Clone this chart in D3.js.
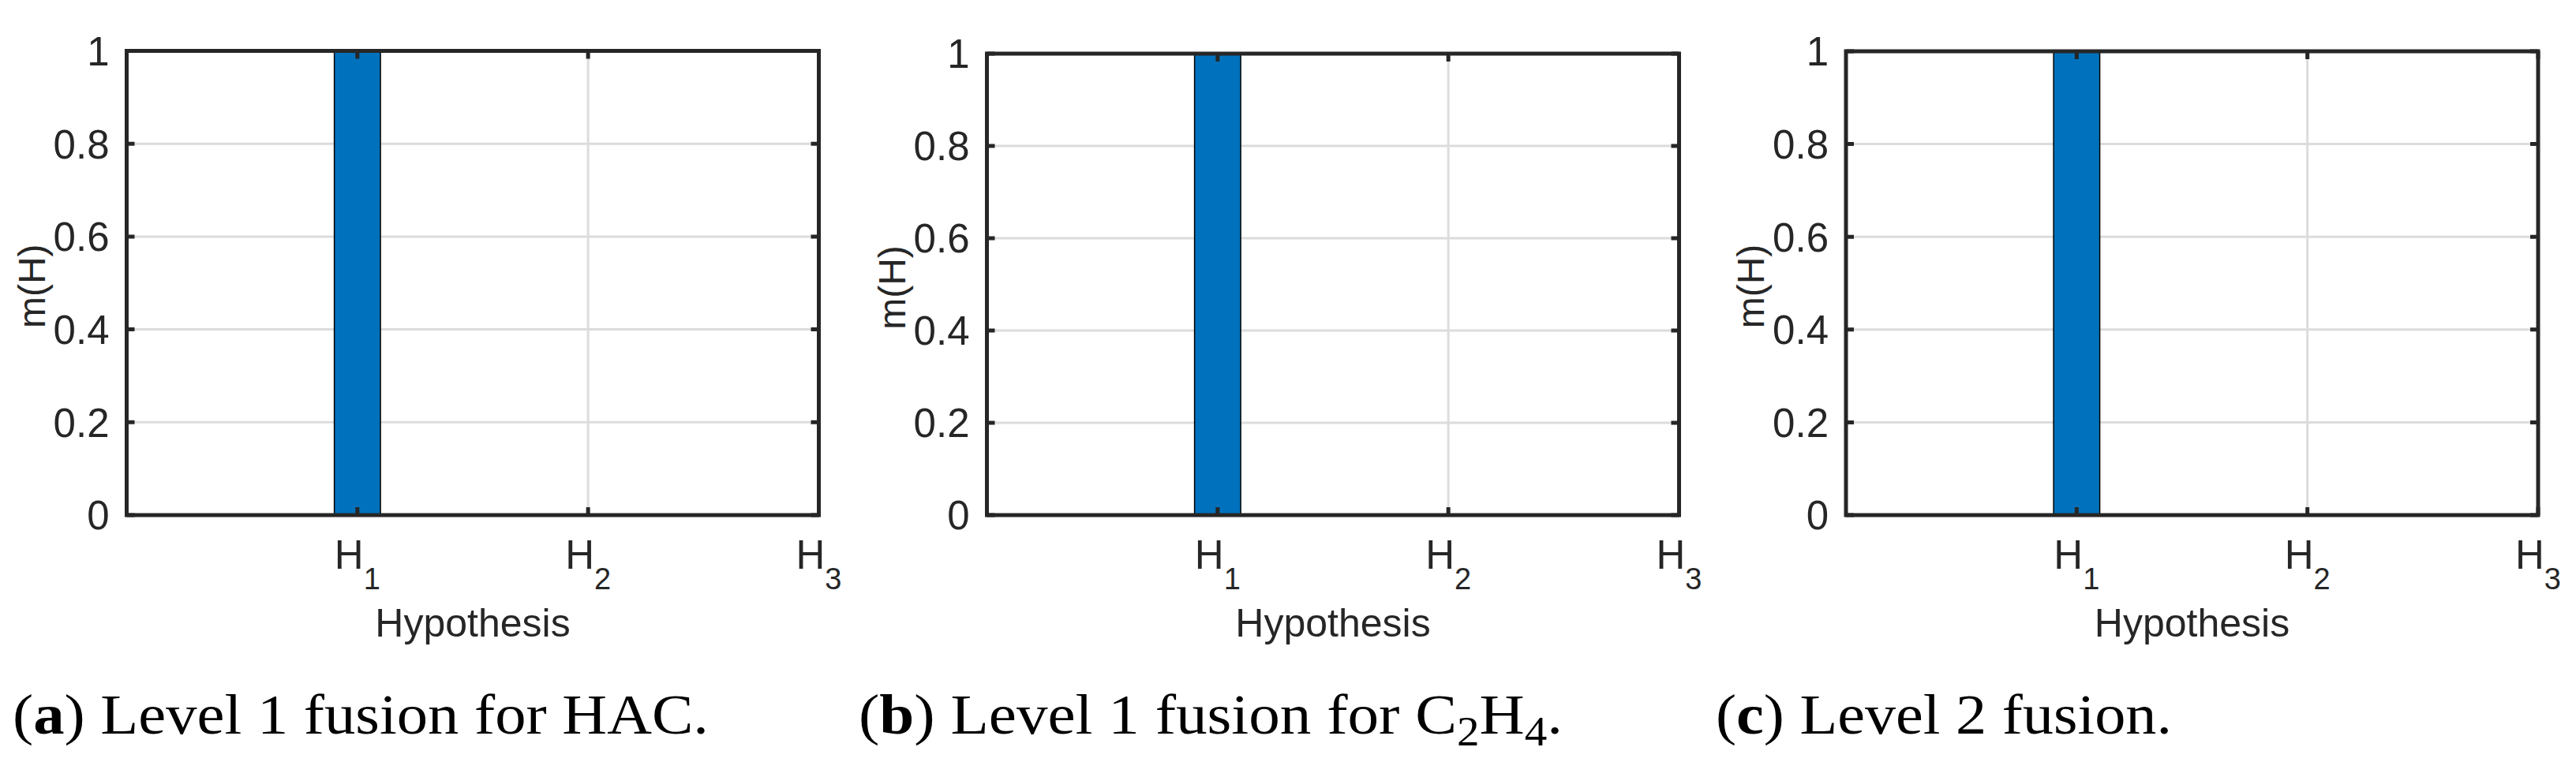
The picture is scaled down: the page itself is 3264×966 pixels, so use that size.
<!DOCTYPE html>
<html>
<head>
<meta charset="utf-8">
<script src="https://cdn.jsdelivr.net/npm/d3@7"></script>
<style>
  html, body { margin: 0; padding: 0; background: #fff; }
  svg { display: block; }
</style>
</head>
<body>
<div id="chart"></div>
<script>
// hypotheses on the x axis (H with a subscript)
var hypotheses = ['1', '2', '3'];
// mass m(H) for each panel
var massLevel1HAC = [1, 0, 0];
var massLevel1C2H4 = [1, 0, 0];
var massLevel2 = [1, 0, 0];
var yTicks = [0, 0.2, 0.4, 0.6, 0.8, 1];
var panelLetters = ['a', 'b', 'c'];

var width = 3264;
var height = 966;
var barWidth = 0.2;
var axisColor = '#262626';
var barColor = '#0072BD';
var gridColor = '#dcdcdc';
var sans = 'Liberation Sans, Arial, sans-serif';

// one entry per panel: data, box placement, caption pieces
var panels = [
	{mass: massLevel1HAC, left: 160.5, top: 64.5,
		caption: [{t: '('}, {t: panelLetters[0], bold: true}, {t: ') Level 1 fusion for HAC.'}],
		capX: 16, capW: 882},
	{mass: massLevel1C2H4, left: 1250.5, top: 68,
		caption: [{t: '('}, {t: panelLetters[1], bold: true}, {t: ') Level 1 fusion for C'}, {t: '2', sub: true},
			{t: 'H', up: true}, {t: '4', sub: true}, {t: '.', up: true}],
		capX: 1088, capW: 892},
	{mass: massLevel2, left: 2339, top: 65,
		caption: [{t: '('}, {t: panelLetters[2], bold: true}, {t: ') Level 2 fusion.'}],
		capX: 2174, capW: 578}
];
var plotW = 877;
var bottom = 653;

var svg = d3.select('#chart')
	.append('svg')
	.attr('width', width)
	.attr('height', height);

panels.forEach(function(p, k){
	var x = d3.scaleLinear().domain([0, 3]).range([p.left, p.left + plotW]);
	var y = d3.scaleLinear().domain([0, 1]).range([bottom, p.top]);
	var g = svg.append('g');

	// grid lines
	g.selectAll('.hgrid')
		.data(yTicks.slice(1, -1))
		.enter()
		.append('line')
		.attr('x1', x(0)).attr('x2', x(3))
		.attr('y1', y).attr('y2', y)
		.attr('stroke', gridColor)
		.attr('stroke-width', 3);
	g.selectAll('.vgrid')
		.data(hypotheses.slice(0, -1))
		.enter()
		.append('line')
		.attr('x1', function(d, i){ return x(i + 1); })
		.attr('x2', function(d, i){ return x(i + 1); })
		.attr('y1', y(0)).attr('y2', y(1))
		.attr('stroke', gridColor)
		.attr('stroke-width', 3);

	// bars
	g.selectAll('.bar')
		.data(p.mass)
		.enter()
		.append('rect')
		.attr('x', function(d, i){ return x(i + 1 - barWidth / 2); })
		.attr('width', x(barWidth) - x(0))
		.attr('y', function(d){ return y(d); })
		.attr('height', function(d){ return y(0) - y(d); })
		.attr('fill', barColor)
		.attr('stroke', '#000')
		.attr('stroke-width', 1.5);

	// axes (box with inward ticks on all sides)
	var tickLen = 10;
	var ax = g.append('g');
	ax.selectAll('.ty')
		.data(yTicks)
		.enter()
		.append('path')
		.attr('d', function(d){
			return 'M' + x(0) + ',' + y(d) + 'h' + tickLen +
				'M' + x(3) + ',' + y(d) + 'h' + (-tickLen);
		})
		.attr('stroke', axisColor)
		.attr('stroke-width', 5);
	ax.selectAll('.tx')
		.data(hypotheses)
		.enter()
		.append('path')
		.attr('d', function(d, i){
			return 'M' + x(i + 1) + ',' + y(0) + 'v' + (-tickLen) +
				'M' + x(i + 1) + ',' + y(1) + 'v' + tickLen;
		})
		.attr('stroke', axisColor)
		.attr('stroke-width', 5);
	ax.append('rect')
		.attr('x', x(0)).attr('y', y(1))
		.attr('width', x(3) - x(0)).attr('height', y(0) - y(1))
		.attr('fill', 'none')
		.attr('stroke', axisColor)
		.attr('stroke-width', 5);

	// y tick labels
	g.selectAll('.yl')
		.data(yTicks)
		.enter()
		.append('text')
		.attr('x', x(0) - 22)
		.attr('y', y)
		.attr('dy', '0.36em')
		.attr('text-anchor', 'end')
		.attr('font-family', sans)
		.attr('font-size', 51)
		.attr('fill', axisColor)
		.text(function(d){ return d; });

	// x tick labels H with subscript
	var xl = g.selectAll('.xl')
		.data(hypotheses)
		.enter()
		.append('text')
		.attr('x', function(d, i){ return x(i + 1); })
		.attr('y', bottom + 68)
		.attr('text-anchor', 'middle')
		.attr('font-family', sans)
		.attr('font-size', 51)
		.attr('fill', axisColor);
	xl.append('tspan').text('H');
	xl.append('tspan')
		.attr('dy', 26)
		.attr('font-size', 38)
		.text(function(d){ return d; });

	// axis titles
	g.append('text')
		.attr('x', (x(0) + x(3)) / 2)
		.attr('y', bottom + 154)
		.attr('text-anchor', 'middle')
		.attr('font-family', sans)
		.attr('font-size', 50)
		.attr('fill', axisColor)
		.text('Hypothesis');
	g.append('text')
		.attr('transform', 'translate(' + (x(0) - 104) + ',' + ((y(0) + y(1)) / 2 + 4) + ') rotate(-90)')
		.attr('text-anchor', 'middle')
		.attr('font-family', sans)
		.attr('font-size', 48)
		.attr('fill', axisColor)
		.text('m(H)');

	// caption below the panel
	var cap = svg.append('text')
		.attr('x', p.capX)
		.attr('y', 930)
		.attr('font-family', 'Liberation Serif, Times New Roman, serif')
		.attr('font-size', 72)
		.attr('fill', '#000')
		.attr('textLength', p.capW)
		.attr('lengthAdjust', 'spacingAndGlyphs');
	p.caption.forEach(function(c){
		var ts = cap.append('tspan').text(c.t);
		if (c.bold) ts.attr('font-weight', 'bold');
		if (c.sub) ts.attr('dy', 15).attr('font-size', 52);
		if (c.up) ts.attr('dy', -15);
	});
});
</script>
</body>
</html>
